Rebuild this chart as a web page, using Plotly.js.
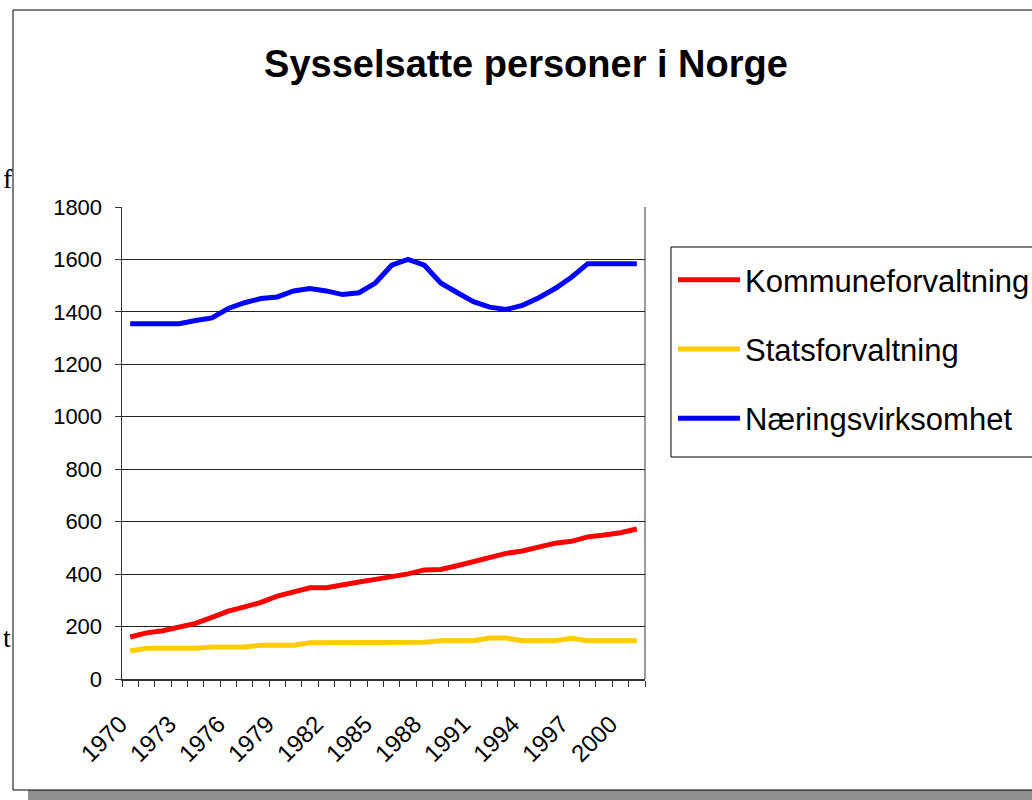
<!DOCTYPE html>
<html>
<head>
<meta charset="utf-8">
<script src="https://cdn.plot.ly/plotly-3.0.1.min.js"></script>
<style>html,body{margin:0;padding:0;background:#fff;}#chart{width:1032px;height:800px;}</style>
</head>
<body>
<div id="chart"></div>
<script>
var years = [1970,1971,1972,1973,1974,1975,1976,1977,1978,1979,1980,1981,1982,1983,1984,1985,1986,1987,1988,1989,1990,1991,1992,1993,1994,1995,1996,1997,1998,1999,2000,2001];
var kommune = [160,176,184,199,212,235,259,275,292,316,332,348,348,357,370,380,389,401,416,418,432,449,464,479,488,502,518,525,542,549,558,572];
var stat = [107,117,117,117,117,122,122,122,129,129,129,138,138,138,138,138,140,140,140,146,146,146,156,156,146,146,146,155,146,146,146,146];
var naering = [1355,1355,1355,1355,1367,1377,1413,1435,1451,1457,1480,1489,1480,1466,1473,1510,1578,1600,1578,1510,1474,1439,1418,1409,1425,1454,1489,1532,1584,1584,1584,1584];
var seriesNames = ["Kommuneforvaltning","Statsforvaltning","Næringsvirksomhet"];
var xTickVals = [1970,1973,1976,1979,1982,1985,1988,1991,1994,1997,2000];
var xTickText = ["1970","1973","1976","1979","1982","1985","1988","1991","1994","1997","2000"];
var yTickVals = [0,200,400,600,800,1000,1200,1400,1600,1800];
var titleText = "Sysselsatte personer i Norge";

var boundaries = years.map(function(y){return y-0.5;}).concat([years[years.length-1]+0.5]);

var font = "Liberation Sans, Arial, sans-serif";
function tr(y, name, color, g){
  return {x: years, y: y, name: name, type: 'scatter', mode: 'lines',
    line: {color: color, width: 5}, legendgroup: g, hoverinfo: 'skip'};
}
var data = [
  tr(kommune, seriesNames[0], '#FF0000', 'a'),
  tr(stat, seriesNames[1], '#FFCC00', 'b'),
  tr(naering, seriesNames[2], '#0000FF', 'c')
];

var L=122, R=645, T=207, B=679;
function px(x){return (x-L)/(R-L);}
function py(y){return (B-y)/(B-T);}

var layout = {
  width: 1032, height: 800,
  margin: {l: L, r: 1032-R, t: T, b: 800-B, pad: 0, autoexpand: false},
  paper_bgcolor: '#ffffff', plot_bgcolor: 'rgba(0,0,0,0)',
  font: {family: font, color: '#000'},
  title: {text: '<b>'+titleText+'</b>', font: {family: font, size: 38, color: '#000'},
    xref: 'container', yref: 'container', x: 526/1032, xanchor: 'center', y: 1-64/800, yanchor: 'middle'},
  showlegend: true,
  legend: {x: px(673), xanchor: 'left', y: py(253), yanchor: 'top', bgcolor: 'rgba(0,0,0,0)',
    borderwidth: 0, font: {family: font, size: 31, color: '#000'}, itemwidth: 62,
    tracegroupgap: 26, traceorder: 'grouped'},
  xaxis: {type: 'linear', range: [1969.5, 2001.5], fixedrange: true,
    tickmode: 'array', tickvals: xTickVals, ticktext: xTickText, ticks: '', tickangle: -45,
    ticklabelstandoff: 20, ticklabelshift: -10,
    tickfont: {family: font, size: 24, color: '#000'},
    showgrid: false, zeroline: false, showline: true, linecolor: '#333', linewidth: 1.5,
    minor: {tickmode: 'array', tickvals: boundaries, ticks: 'outside', ticklen: 6, tickwidth: 1, tickcolor: '#333', showgrid: false}},
  yaxis: {range: [0, 1800], fixedrange: true, tickmode: 'array', tickvals: yTickVals,
    ticks: 'outside', ticklen: 6, tickwidth: 1, tickcolor: '#333', ticklabelstandoff: 8,
    tickfont: {family: font, size: 22, color: '#000'},
    showgrid: true, gridcolor: '#222', gridwidth: 1, zeroline: false,
    showline: true, linecolor: '#333', linewidth: 1.5},
  shapes: [
    {type: 'rect', xref: 'paper', yref: 'paper', x0: px(28), x1: px(1060), y0: py(812), y1: py(700),
      line: {width: 0}, fillcolor: '#8f8f8f', layer: 'below'},
    {type: 'rect', xref: 'paper', yref: 'paper', x0: px(13), x1: px(1050), y0: py(790), y1: py(10),
      line: {color: '#000', width: 1}, fillcolor: '#ffffff', layer: 'below'},
    {type: 'line', xref: 'paper', yref: 'paper', x0: 1, x1: 1, y0: 0, y1: 1,
      line: {color: '#999', width: 2}, layer: 'below'},
    {type: 'rect', xref: 'paper', yref: 'paper', x0: px(671), x1: px(1050), y0: py(457), y1: py(247),
      line: {color: '#000', width: 1}, fillcolor: 'rgba(0,0,0,0)', layer: 'above'}
  ],
  annotations: [
    {text: 'f', xref: 'paper', yref: 'paper', x: px(1), y: py(178), xanchor: 'left', yanchor: 'middle',
      showarrow: false, font: {family: 'Liberation Serif, serif', size: 28, color: '#000'}},
    {text: 't', xref: 'paper', yref: 'paper', x: px(1), y: py(637), xanchor: 'left', yanchor: 'middle',
      showarrow: false, font: {family: 'Liberation Serif, serif', size: 28, color: '#000'}}
  ]
};

Plotly.newPlot('chart', data, layout, {displayModeBar: false, staticPlot: true});
</script>
</body>
</html>
